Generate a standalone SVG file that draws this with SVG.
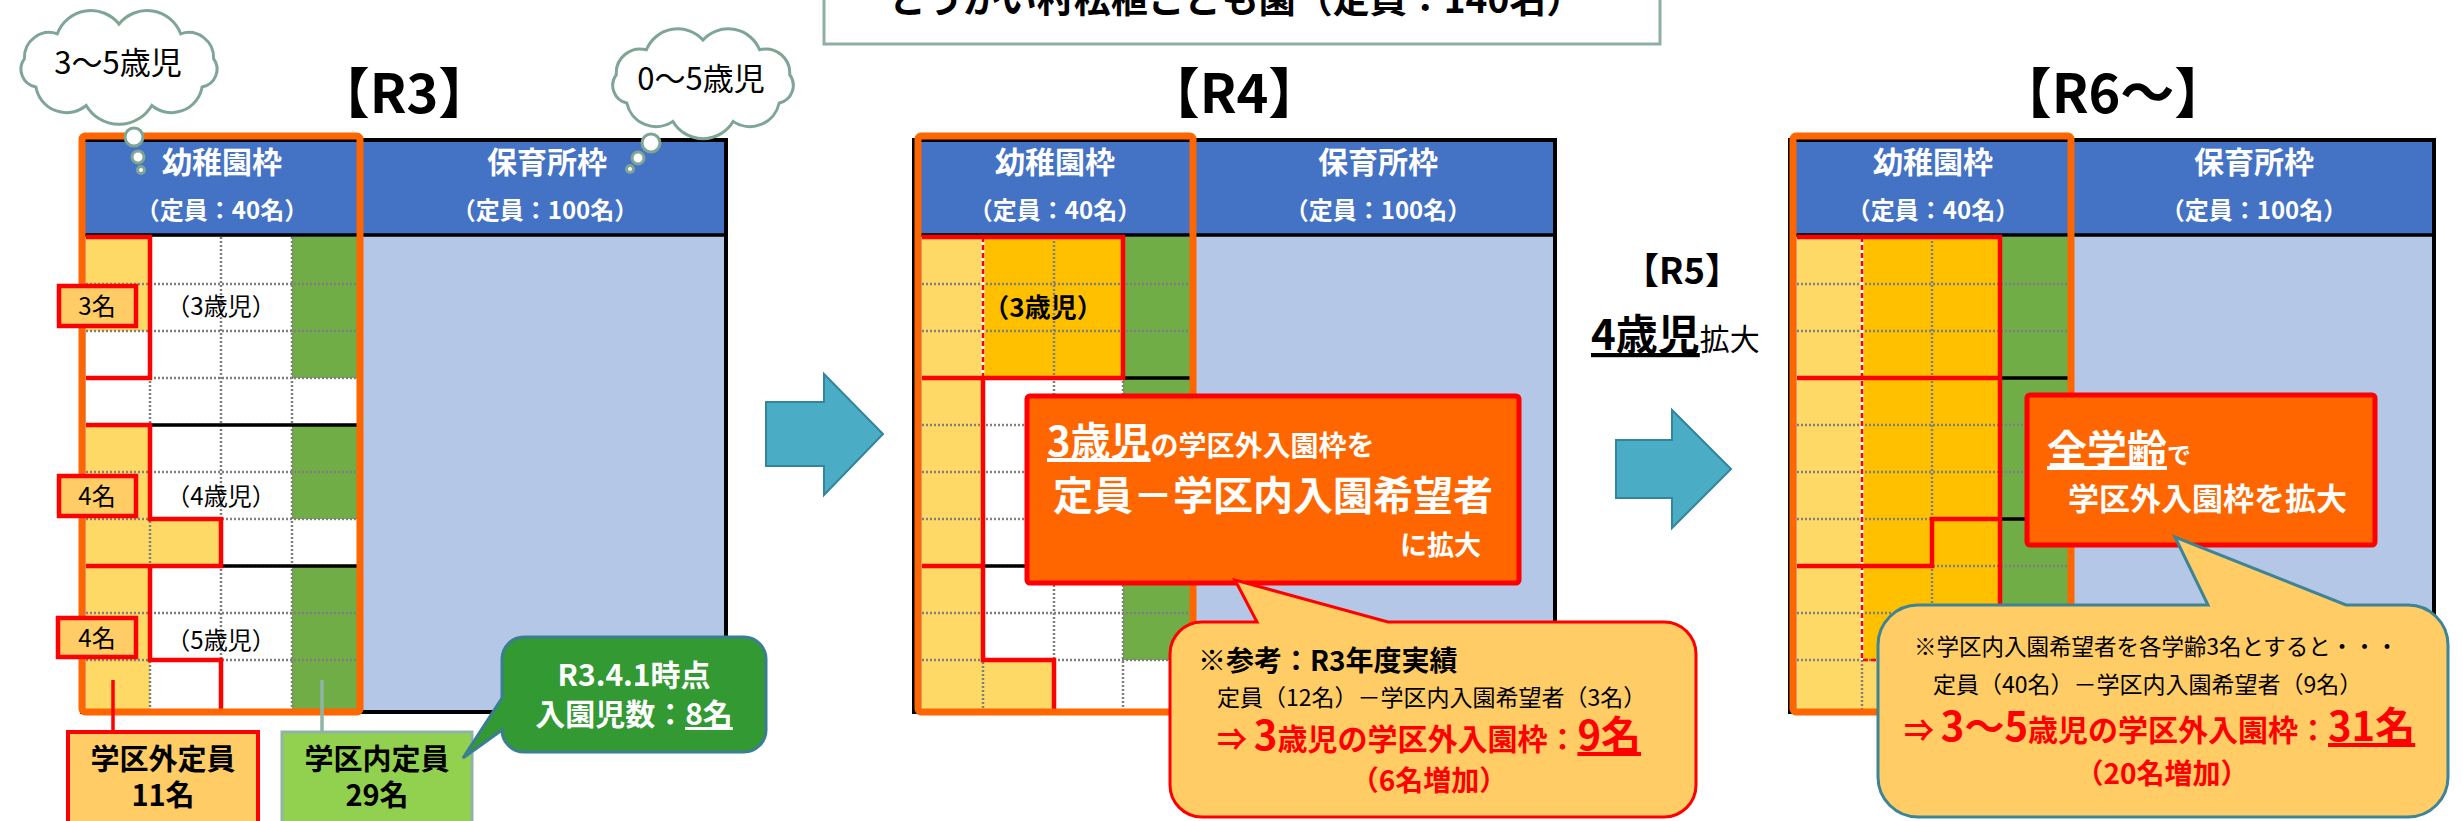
<svg xmlns="http://www.w3.org/2000/svg" width="2463" height="821" viewBox="0 0 2463 821">
<style>
text{font-family:"Noto Sans CJK JP","Noto Sans CJK SC",sans-serif}
.b{font-weight:bold}
.w{fill:#fff}
.rd{fill:#FF0000}
.m{text-anchor:middle}
.e{text-anchor:end}
.dot{stroke:#7F7F7F;stroke-width:2.5;stroke-dasharray:2 2;fill:none}
.red{stroke:#FF0000;stroke-width:4.5;fill:none}
.rdash{stroke:#FF0000;stroke-width:2.5;stroke-dasharray:5 3;fill:none}
.wl{stroke:#fff;stroke-width:3;fill:none}
.blk{stroke:#000;stroke-width:3.5;fill:none}
.of{fill:none;stroke:#FF6600;stroke-width:7}
.hdr{fill:#4472C4}
.pa{fill:#B4C7E7;stroke:#000;stroke-width:4}
.ly{fill:#FFD966}.gd{fill:#FFC000}.gn{fill:#70AD47}.wh{fill:#fff}
.cloud{fill:#fff;stroke:#7FA594;stroke-width:3}
.arrow{fill:#4BACC6;stroke:#31859C;stroke-width:2}
.lab{fill:#FFCC66;stroke:#FF0000;stroke-width:4.5}
.call{fill:#FF6600;stroke:#FF0000;stroke-width:5}
.hd{font-size:54px;font-weight:bold;text-anchor:middle}
.ht{font-size:30px;font-weight:bold;fill:#fff;text-anchor:middle}
.hs{font-size:24px;font-weight:bold;fill:#fff;text-anchor:middle}
</style>

<g id="title">
<rect x="824" y="-20" width="836" height="64" fill="#fff" stroke="#8DAFA2" stroke-width="3"/>
<text x="1236" y="13" class="b m" font-size="37">とうかい村松植こども園（定員：140名）</text>
</g>

<!-- R3 -->
<g id="r3">
<text x="404" y="113" class="hd">【R3】</text>
<rect class="pa" x="82" y="140" width="644" height="572"/>
<rect class="hdr" x="84" y="142" width="640" height="92"/>
<line class="blk" x1="82" y1="235" x2="726" y2="235" stroke-width="4"/>
<rect class="wh" x="86" y="237" width="271" height="472"/>
<rect class="ly" x="86" y="237" width="64" height="94"/>
<rect class="ly" x="86" y="425" width="64" height="284"/>
<rect class="ly" x="150" y="519" width="71" height="47"/>
<rect class="gn" x="292" y="237" width="65" height="141"/>
<rect class="gn" x="292" y="425" width="65" height="94"/>
<rect class="gn" x="292" y="566" width="65" height="143"/>
<path class="dot" d="M86,284H357M86,331H357M86,378H357M86,425H357M86,472H357M86,519H357M86,566H357M86,613H357M86,660H357M150,237V709M221,237V709M292,237V709"/>
<path class="blk" d="M150,425H357M221,566H357"/>
<path class="red" d="M86,237H150V378H86M86,425H150V519H221V566H86M150,566V660H221V712"/>
<rect class="of" x="82" y="136" width="278" height="576" rx="3"/>
<text x="222" y="173" class="ht">幼稚園枠</text>
<text x="222" y="219" class="hs">（定員：40名）</text>
<text x="547" y="173" class="ht">保育所枠</text>
<text x="545" y="219" class="hs">（定員：100名）</text>
<text x="221" y="315" class="m" font-size="24">（3歳児）</text>
<text x="221" y="505" class="m" font-size="24">（4歳児）</text>
<text x="221" y="649" class="m" font-size="24">（5歳児）</text>
</g>

<g id="lab3"><rect class="lab" x="59" y="286" width="77" height="40"/><text x="97" y="315" class="m" font-size="24">3名</text></g>
<g id="lab4"><rect class="lab" x="59" y="476" width="77" height="40"/><text x="97" y="505" class="m" font-size="24">4名</text></g>
<g id="lab5"><rect class="lab" x="58" y="618" width="78" height="39"/><text x="97" y="647" class="m" font-size="24">4名</text></g>

<g id="gaiteiin">
<rect x="68" y="732" width="190" height="100" fill="#FFCC66" stroke="#FF0000" stroke-width="4"/>
<text x="163" y="770" class="b m" font-size="29">学区外定員</text>
<text x="163" y="806" class="b m" font-size="29">11名</text>
</g>
<g id="naiteiin">
<rect x="282" y="732" width="190" height="100" fill="#92D050" stroke="#8FB4A6" stroke-width="3"/>
<text x="377" y="770" class="b m" font-size="29">学区内定員</text>
<text x="377" y="806" class="b m" font-size="29">29名</text>
</g>

<g id="r3note">
<path d="M524,637H744A22,22 0 0 1 766,659V730A22,22 0 0 1 744,752H524A22,22 0 0 1 502,730L463,758L502,698V659A22,22 0 0 1 524,637Z" fill="#339933" stroke="#3A7E94" stroke-width="3"/>
<text x="634" y="686" class="b m w" font-size="30">R3.4.1時点</text>
<text x="634" y="725" class="b m w" font-size="30">入園児数：<tspan text-decoration="underline">8名</tspan></text>
</g>

<g id="cloud1">
<path class="cloud" d="M119,24A36,36 0 0 1 180.7,33.8A25,25 0 0 1 213.6,58.7A18,18 0 0 1 202.1,87A31,31 0 0 1 151.8,105.5A38,38 0 0 1 86.2,105.5A31,31 0 0 1 35.9,87A18,18 0 0 1 24.4,58.7A25,25 0 0 1 57.3,33.8A36,36 0 0 1 119,24Z"/>
<circle class="cloud" cx="134" cy="137" r="9"/>
<circle class="cloud" cx="138" cy="157" r="6"/>
<circle class="cloud" cx="141" cy="170" r="3.5"/>
<text x="118" y="74" class="m" font-size="31">3～5歳児</text>
</g>
<g id="cloud2">
<path class="cloud" d="M703,40A34,34 0 0 1 759.6,49.8A24,24 0 0 1 789.7,74.7A18,18 0 0 1 779.2,103A30,30 0 0 1 733.1,121.5A35,35 0 0 1 672.9,121.5A30,30 0 0 1 626.8,103A18,18 0 0 1 616.3,74.7A24,24 0 0 1 646.4,49.8A34,34 0 0 1 703,40Z"/>
<circle class="cloud" cx="651" cy="143" r="9"/>
<circle class="cloud" cx="638" cy="158" r="6"/>
<circle class="cloud" cx="630" cy="169" r="3.5"/>
<text x="701" y="90" class="m" font-size="31">0～5歳児</text>
</g>

<g id="connectors">
<line x1="113" y1="680" x2="113" y2="732" stroke="#FF0000" stroke-width="3.5"/>
<line x1="322" y1="680" x2="322" y2="732" stroke="#8FB4A6" stroke-width="3.5"/>
<path class="arrow" d="M766,402H824V374L883,434L824,495V466H766Z"/>
<path class="arrow" d="M1616,440H1672V410L1731,469L1672,528V498H1616Z"/>
<line x1="1089" y1="343" x2="1089" y2="396" stroke="#FF0000" stroke-width="4.5"/>
</g>

<!-- R4 -->
<g id="r4">
<text x="1234" y="113" class="hd">【R4】</text>
<rect class="pa" x="914" y="140" width="641" height="572"/>
<rect class="hdr" x="916" y="142" width="637" height="92"/>
<line class="blk" x1="914" y1="235" x2="1555" y2="235" stroke-width="4"/>
<rect class="wh" x="922" y="237" width="268" height="472"/>
<rect class="ly" x="922" y="237" width="61" height="472"/>
<rect class="gd" x="983" y="237" width="140" height="141"/>
<rect class="ly" x="983" y="660" width="71" height="49"/>
<rect class="gn" x="1123" y="237" width="67" height="423"/>
<path class="dot" d="M922,284H1190M922,331H1190M922,378H1190M922,425H1190M922,472H1190M922,519H1190M922,566H1190M922,613H1190M922,660H1190M983,378V709M1054,237V709M1123,237V709"/>
<line class="wl" x1="983" y1="237" x2="983" y2="378"/>
<line class="rdash" x1="983" y1="237" x2="983" y2="378"/>
<path class="blk" d="M1123,378H1190M983,566H1190"/>
<path class="red" d="M922,237H1123V378H922M983,378V660H1054V712M922,566H983"/>
<rect class="of" x="918" y="136" width="275" height="576" rx="3"/>
<text x="1055" y="173" class="ht">幼稚園枠</text>
<text x="1055" y="219" class="hs">（定員：40名）</text>
<text x="1378" y="173" class="ht">保育所枠</text>
<text x="1378" y="219" class="hs">（定員：100名）</text>
<text x="1043" y="317" class="b m" font-size="26">（3歳児）</text>
</g>

<g id="r4call">
<rect class="call" x="1027" y="396" width="492" height="187" rx="3"/>
<text x="1047" y="456" class="b w"><tspan font-size="40" text-decoration="underline">3歳児</tspan><tspan font-size="28">の学区外入園枠を</tspan></text>
<text x="1273" y="510" class="b m w" font-size="40">定員－学区内入園希望者</text>
<text x="1481" y="555" class="b e w" font-size="27">に拡大</text>
</g>

<g id="r4note">
<path d="M1202,622H1257L1235,580L1388,622H1664A32,32 0 0 1 1696,654V785A32,32 0 0 1 1664,817H1202A32,32 0 0 1 1170,785V654A32,32 0 0 1 1202,622Z" fill="#FFCC66" stroke="#FF0000" stroke-width="3"/>
<text x="1198" y="671" class="b" font-size="28">※参考：R3年度実績</text>
<text x="1217" y="706" font-size="23">定員（12名）－学区内入園希望者（3名）</text>
<text x="1217" y="750" class="b rd"><tspan font-size="30">⇒ </tspan><tspan font-size="40">3</tspan><tspan font-size="30">歳児の学区外入園枠：</tspan><tspan font-size="40" text-decoration="underline">9名</tspan></text>
<text x="1429" y="791" class="b m rd" font-size="28">（6名増加）</text>
</g>

<g id="r5">
<text x="1682" y="284" class="b m" font-size="36">【R5】</text>
<text x="1591" y="350"><tspan class="b" font-size="42" text-decoration="underline">4歳児</tspan><tspan font-size="30">拡大</tspan></text>
</g>

<!-- R6 -->
<g id="r6">
<text x="2113" y="113" class="hd">【R6～】</text>
<rect class="pa" x="1790" y="140" width="644" height="572"/>
<rect class="hdr" x="1792" y="142" width="640" height="92"/>
<line class="blk" x1="1790" y1="235" x2="2434" y2="235" stroke-width="4"/>
<rect class="wh" x="1797" y="237" width="271" height="472"/>
<rect class="ly" x="1797" y="237" width="65" height="472"/>
<rect class="gd" x="1862" y="237" width="138" height="423"/>
<rect class="ly" x="1862" y="660" width="138" height="49"/>
<rect class="gn" x="2000" y="237" width="68" height="472"/>
<path class="dot" d="M1797,284H2068M1797,331H2068M1797,378H2068M1797,425H2068M1797,472H2068M1797,519H2068M1797,566H2068M1797,613H2068M1797,660H2068M1862,660V709M1932,237V709M2000,237V709"/>
<line class="wl" x1="1862" y1="237" x2="1862" y2="660"/>
<path class="rdash" d="M1862,237V660H1932"/>
<path class="blk" d="M2000,378H2068M2000,519H2068"/>
<path class="red" d="M1797,237H2000V712M1797,378H2000M2000,519H1932V566H1797"/>
<rect class="of" x="1793" y="136" width="278" height="576" rx="3"/>
<text x="1933" y="173" class="ht">幼稚園枠</text>
<text x="1933" y="219" class="hs">（定員：40名）</text>
<text x="2254" y="173" class="ht">保育所枠</text>
<text x="2254" y="219" class="hs">（定員：100名）</text>
</g>

<g id="r6call">
<rect class="call" x="2027" y="395" width="348" height="150" rx="3"/>
<text x="2047" y="464" class="b w"><tspan font-size="40" text-decoration="underline">全学齢</tspan><tspan font-size="24">で</tspan></text>
<text x="2068" y="510" class="b w" font-size="31">学区外入園枠を拡大</text>
</g>

<g id="r6note">
<path d="M1918,605H2208L2175,537L2346,605H2408A40,40 0 0 1 2448,645V777A40,40 0 0 1 2408,817H1918A40,40 0 0 1 1878,777V645A40,40 0 0 1 1918,605Z" fill="#FFCC66" stroke="#3C8496" stroke-width="3"/>
<text x="1914" y="655" font-size="22.5">※学区内入園希望者を各学齢3名とすると・・・</text>
<text x="1933" y="693" font-size="23">定員（40名）－学区内入園希望者（9名）</text>
<text x="1904" y="741" class="b rd"><tspan font-size="30">⇒ </tspan><tspan font-size="40">3～5</tspan><tspan font-size="30">歳児の学区外入園枠：</tspan><tspan font-size="40" text-decoration="underline">31名</tspan></text>
<text x="2162" y="784" class="b m rd" font-size="28">（20名増加）</text>
</g>
</svg>
